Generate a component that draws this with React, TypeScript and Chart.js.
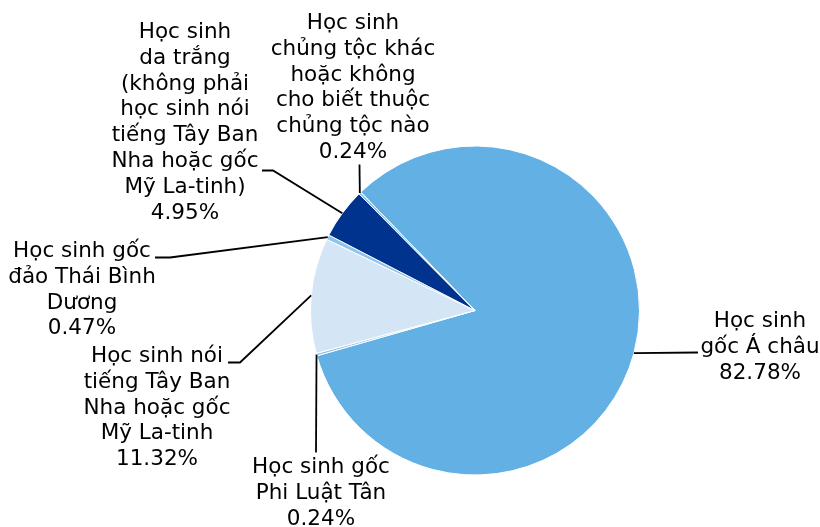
import React, { useEffect, useRef } from "react";
import { Chart, registerables } from "chart.js";
Chart.register(...registerables);

const categories: string[][] = [
  ["Học sinh", "gốc Á châu"],
  ["Học sinh gốc", "Phi Luật Tân"],
  ["Học sinh nói", "tiếng Tây Ban", "Nha hoặc gốc", "Mỹ La-tinh"],
  ["Học sinh gốc", "đảo Thái Bình", "Dương"],
  ["Học sinh", "da trắng", "(không phải", "học sinh nói", "tiếng Tây Ban", "Nha hoặc gốc", "Mỹ La-tinh)"],
  ["Học sinh", "chủng tộc khác", "hoặc không", "cho biết thuộc", "chủng tộc nào"],
];
const values = [82.78, 0.24, 11.32, 0.47, 4.95, 0.24];
const valueLabels = ["82.78%", "0.24%", "11.32%", "0.47%", "4.95%", "0.24%"];
const colors = ["#62B0E4", "#8EC3EC", "#D4E5F6", "#8EC3EC", "#00338D", "#8EC3EC"];

// label placement (offsets from pie centre): text centre x, first line y, leader path after edge point
const layout = [
  { tx: 285, ty: 11, path: [[223, 42]] },
  { tx: -154, ty: 157, path: [[-159, 142]] },
  { tx: -318, ty: 46, path: [[-235, 52], [-247, 52]] },
  { tx: -393, ty: -59, path: [[-305, -53], [-320, -53]] },
  { tx: -290, ty: -278, path: [[-202, -140], [-213, -140]] },
  { tx: -122, ty: -287, path: [[-115.5, -146]] },
];

const FONT = '21.5px "DejaVu Sans", Verdana, sans-serif';
const LINE_H = 25.8;

const labelPlugin = {
  id: "outLabels",
  afterDraw(chart: any) {
    const ctx = chart.ctx;
    const meta = chart.getDatasetMeta(0);
    ctx.save();
    ctx.font = FONT;
    ctx.fillStyle = "#000";
    ctx.strokeStyle = "#000";
    ctx.lineWidth = 1.8;
    ctx.textAlign = "center";
    ctx.textBaseline = "middle";
    meta.data.forEach((arc: any, i: number) => {
      const { x, y, startAngle, endAngle, outerRadius } = arc.getProps(
        ["x", "y", "startAngle", "endAngle", "outerRadius"],
        true
      );
      const mid = (startAngle + endAngle) / 2;
      const ex = x + Math.cos(mid) * outerRadius;
      const ey = y + Math.sin(mid) * outerRadius;
      const L = layout[i];
      ctx.beginPath();
      ctx.moveTo(ex, ey);
      L.path.forEach((p) => ctx.lineTo(x + p[0], y + p[1]));
      ctx.stroke();
      const lines = [...categories[i], valueLabels[i]];
      lines.forEach((t, k) => {
        ctx.fillText(t, x + L.tx, y + L.ty + k * LINE_H);
      });
    });
    ctx.restore();
  },
};

export default function App() {
  const ref = useRef<HTMLCanvasElement | null>(null);
  useEffect(() => {
    if (!ref.current) return;
    const chart = new Chart(ref.current, {
      type: "pie",
      data: {
        labels: categories.map((c) => c.join(" ")),
        datasets: [
          {
            data: values,
            backgroundColor: colors,
            borderColor: "#ffffff",
            borderWidth: 1,
          },
        ],
      },
      options: {
        responsive: false,
        animation: false,
        rotation: -44,
        layout: { padding: { top: 145, bottom: 51, left: 310, right: 180 } },
        plugins: { legend: { display: false }, tooltip: { enabled: false } },
      },
      plugins: [labelPlugin],
    });
    return () => chart.destroy();
  }, []);
  return (
    <div style={{ position: "fixed", left: 0, top: 0, width: 820, height: 527, background: "#fff" }}>
      <canvas ref={ref} width={820} height={527} />
    </div>
  );
}
